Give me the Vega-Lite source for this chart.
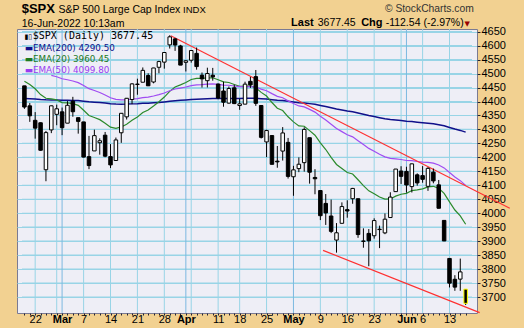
{
  "$schema": "https://vega.github.io/schema/vega-lite/v6.json",
  "width": 460,
  "height": 284,
  "autosize": {"type": "none"},
  "padding": {"left": 17, "top": 29, "right": 47, "bottom": 15},
  "background": "#F2D191",
  "config": {
    "view": {"fill": "#EEEEF6", "stroke": "#7a7a92", "strokeWidth": 1},
    "text": {"font": "Liberation Sans"},
    "axis": {
      "domain": false,
      "labelOverlap": false,
      "labelBound": false,
      "labelFlush": false,
      "labelFont": "Liberation Sans",
      "labelFontSize": 11,
      "labelColor": "#000000",
      "tickColor": "#222233",
      "title": null
    }
  },
  "data": {
    "values": [
      {"i":0,"o":4456.06,"h":4456.06,"l":4373.81,"c":4380.26,"e20":4472.3,"e50":null,"e200":4410.7},
      {"i":1,"o":4384.57,"h":4394.60,"l":4327.22,"c":4348.87,"e20":4460.6,"e50":null,"e200":4410.1},
      {"i":2,"o":4332.74,"h":4362.12,"l":4267.11,"c":4304.76,"e20":4445.8,"e50":null,"e200":4409.1},
      {"i":3,"o":4324.01,"h":4325.10,"l":4223.83,"c":4225.50,"e20":4424.8,"e50":null,"e200":4407.3},
      {"i":4,"o":4155.77,"h":4294.73,"l":4114.65,"c":4288.70,"e20":4411.8,"e50":null,"e200":4406.1},
      {"i":5,"o":4298.38,"h":4385.34,"l":4286.83,"c":4384.65,"e20":4409.2,"e50":4493.4,"e200":4405.9},
      {"i":6,"o":4354.17,"h":4388.84,"l":4315.12,"c":4373.94,"e20":4405.8,"e50":4488.7,"e200":4405.6},
      {"i":7,"o":4363.14,"h":4378.45,"l":4279.54,"c":4306.26,"e20":4396.3,"e50":4481.6,"e200":4404.6},
      {"i":8,"o":4322.56,"h":4401.48,"l":4322.56,"c":4386.54,"e20":4395.4,"e50":4477.9,"e200":4404.4},
      {"i":9,"o":4401.31,"h":4416.78,"l":4345.56,"c":4363.49,"e20":4392.4,"e50":4473.4,"e200":4404.0},
      {"i":10,"o":4342.12,"h":4342.12,"l":4284.98,"c":4328.87,"e20":4386.4,"e50":4467.7,"e200":4403.3},
      {"i":11,"o":4327.01,"h":4327.01,"l":4199.85,"c":4201.09,"e20":4368.8,"e50":4457.3,"e200":4401.3},
      {"i":12,"o":4202.66,"h":4276.94,"l":4157.87,"c":4170.70,"e20":4349.9,"e50":4446.0,"e200":4399.0},
      {"i":13,"o":4223.10,"h":4299.40,"l":4223.10,"c":4277.88,"e20":4343.0,"e50":4439.4,"e200":4397.8},
      {"i":14,"o":4252.55,"h":4268.28,"l":4209.80,"c":4259.52,"e20":4335.1,"e50":4432.4,"e200":4396.4},
      {"i":15,"o":4279.50,"h":4291.01,"l":4200.49,"c":4204.31,"e20":4322.6,"e50":4423.5,"e200":4394.5},
      {"i":16,"o":4202.75,"h":4247.57,"l":4161.72,"c":4173.11,"e20":4308.4,"e50":4413.7,"e200":4392.3},
      {"i":17,"o":4188.82,"h":4271.05,"l":4187.90,"c":4262.45,"e20":4304.0,"e50":4407.8,"e200":4391.0},
      {"i":18,"o":4288.14,"h":4358.90,"l":4251.99,"c":4357.86,"e20":4309.1,"e50":4405.8,"e200":4390.7},
      {"i":19,"o":4345.11,"h":4412.67,"l":4335.65,"c":4411.67,"e20":4318.9,"e50":4406.0,"e200":4390.9},
      {"i":20,"o":4407.34,"h":4465.40,"l":4390.57,"c":4463.12,"e20":4332.6,"e50":4408.2,"e200":4391.6},
      {"i":21,"o":4462.40,"h":4481.75,"l":4424.30,"c":4461.18,"e20":4344.8,"e50":4410.2,"e200":4392.3},
      {"i":22,"o":4469.10,"h":4522.00,"l":4469.10,"c":4511.61,"e20":4360.7,"e50":4414.2,"e200":4393.5},
      {"i":23,"o":4493.10,"h":4501.07,"l":4455.81,"c":4456.24,"e20":4369.8,"e50":4415.8,"e200":4394.1},
      {"i":24,"o":4469.98,"h":4520.58,"l":4465.17,"c":4520.16,"e20":4384.1,"e50":4419.9,"e200":4395.3},
      {"i":25,"o":4522.66,"h":4546.03,"l":4501.07,"c":4543.06,"e20":4399.2,"e50":4424.7,"e200":4396.8},
      {"i":26,"o":4541.09,"h":4575.65,"l":4517.69,"c":4575.52,"e20":4416.0,"e50":4430.6,"e200":4398.7},
      {"i":27,"o":4602.86,"h":4637.30,"l":4589.66,"c":4631.60,"e20":4436.5,"e50":4438.5,"e200":4401.0},
      {"i":28,"o":4624.20,"h":4627.77,"l":4581.32,"c":4602.45,"e20":4452.3,"e50":4444.9,"e200":4403.0},
      {"i":29,"o":4599.02,"h":4603.07,"l":4530.41,"c":4530.41,"e20":4459.7,"e50":4448.3,"e200":4404.2},
      {"i":30,"o":4540.32,"h":4548.70,"l":4507.57,"c":4545.86,"e20":4467.9,"e50":4452.1,"e200":4405.6},
      {"i":31,"o":4547.97,"h":4583.50,"l":4539.21,"c":4582.64,"e20":4478.8,"e50":4457.2,"e200":4407.3},
      {"i":32,"o":4572.45,"h":4593.45,"l":4514.17,"c":4525.12,"e20":4483.2,"e50":4459.9,"e200":4408.6},
      {"i":33,"o":4494.17,"h":4503.94,"l":4450.04,"c":4481.15,"e20":4483.0,"e50":4460.7,"e200":4409.3},
      {"i":34,"o":4474.65,"h":4521.16,"l":4450.30,"c":4500.21,"e20":4484.6,"e50":4462.3,"e200":4410.2},
      {"i":35,"o":4494.15,"h":4520.41,"l":4474.60,"c":4488.28,"e20":4485.0,"e50":4463.3,"e200":4410.9},
      {"i":36,"o":4462.64,"h":4464.35,"l":4408.38,"c":4412.53,"e20":4478.1,"e50":4461.3,"e200":4410.9},
      {"i":37,"o":4437.59,"h":4471.00,"l":4381.34,"c":4397.45,"e20":4470.4,"e50":4458.8,"e200":4410.9},
      {"i":38,"o":4394.30,"h":4453.92,"l":4392.70,"c":4446.59,"e20":4468.1,"e50":4458.3,"e200":4411.2},
      {"i":39,"o":4449.12,"h":4460.46,"l":4390.77,"c":4392.59,"e20":4460.9,"e50":4455.7,"e200":4411.0},
      {"i":40,"o":4385.63,"h":4410.31,"l":4370.30,"c":4391.69,"e20":4454.3,"e50":4453.2,"e200":4410.8},
      {"i":41,"o":4390.63,"h":4471.03,"l":4390.63,"c":4462.21,"e20":4455.1,"e50":4453.5,"e200":4411.4},
      {"i":42,"o":4472.26,"h":4488.29,"l":4448.76,"c":4459.45,"e20":4455.5,"e50":4453.8,"e200":4411.8},
      {"i":43,"o":4489.17,"h":4512.94,"l":4384.47,"c":4393.66,"e20":4449.6,"e50":4451.4,"e200":4411.6},
      {"i":44,"o":4385.83,"h":4385.83,"l":4267.62,"c":4271.78,"e20":4432.7,"e50":4444.3,"e200":4410.3},
      {"i":45,"o":4255.34,"h":4299.02,"l":4200.82,"c":4296.12,"e20":4419.7,"e50":4438.6,"e200":4409.1},
      {"i":46,"o":4278.14,"h":4278.14,"l":4175.04,"c":4175.20,"e20":4396.4,"e50":4428.2,"e200":4406.7},
      {"i":47,"o":4186.52,"h":4240.71,"l":4162.90,"c":4183.96,"e20":4376.2,"e50":4418.6,"e200":4404.5},
      {"i":48,"o":4222.58,"h":4308.45,"l":4188.63,"c":4287.50,"e20":4367.8,"e50":4413.5,"e200":4403.4},
      {"i":49,"o":4253.75,"h":4269.68,"l":4124.28,"c":4131.93,"e20":4345.3,"e50":4402.4,"e200":4400.7},
      {"i":50,"o":4130.61,"h":4169.81,"l":4062.51,"c":4155.38,"e20":4327.2,"e50":4392.8,"e200":4398.2},
      {"i":51,"o":4159.78,"h":4200.10,"l":4147.08,"c":4175.48,"e20":4312.8,"e50":4384.2,"e200":4396.0},
      {"i":52,"o":4181.18,"h":4307.66,"l":4148.91,"c":4300.17,"e20":4311.6,"e50":4381.0,"e200":4395.0},
      {"i":53,"o":4270.43,"h":4270.43,"l":4106.01,"c":4146.87,"e20":4295.9,"e50":4371.8,"e200":4392.5},
      {"i":54,"o":4128.17,"h":4157.69,"l":4067.91,"c":4123.34,"e20":4279.5,"e50":4362.1,"e200":4389.9},
      {"i":55,"o":4081.27,"h":4081.27,"l":3975.48,"c":3991.24,"e20":4252.1,"e50":4347.5,"e200":4385.9},
      {"i":56,"o":4035.18,"h":4068.82,"l":3958.17,"c":4001.05,"e20":4228.2,"e50":4334.0,"e200":4382.0},
      {"i":57,"o":3990.08,"h":4049.09,"l":3928.82,"c":3935.18,"e20":4200.3,"e50":4318.4,"e200":4377.6},
      {"i":58,"o":3903.95,"h":3964.80,"l":3858.87,"c":3930.08,"e20":4174.6,"e50":4303.1,"e200":4373.1},
      {"i":59,"o":3963.90,"h":4038.88,"l":3963.90,"c":4023.89,"e20":4160.3,"e50":4292.2,"e200":4369.7},
      {"i":60,"o":4013.02,"h":4046.46,"l":3983.99,"c":4008.01,"e20":4145.8,"e50":4281.1,"e200":4366.1},
      {"i":61,"o":4052.00,"h":4090.72,"l":4033.93,"c":4088.85,"e20":4140.4,"e50":4273.5,"e200":4363.3},
      {"i":62,"o":4051.98,"h":4051.98,"l":3911.91,"c":3923.68,"e20":4119.8,"e50":4259.8,"e200":4359.0},
      {"i":63,"o":3899.00,"h":3945.96,"l":3876.58,"c":3900.79,"e20":4099.0,"e50":4245.8,"e200":4354.4},
      {"i":64,"o":3927.76,"h":3943.42,"l":3810.32,"c":3901.36,"e20":4080.2,"e50":4232.2,"e200":4349.9},
      {"i":65,"o":3919.42,"h":3981.88,"l":3909.04,"c":3973.75,"e20":4070.1,"e50":4222.1,"e200":4346.1},
      {"i":66,"o":3942.94,"h":3955.68,"l":3875.13,"c":3941.48,"e20":4057.9,"e50":4211.1,"e200":4342.1},
      {"i":67,"o":3929.59,"h":3999.33,"l":3925.03,"c":3978.73,"e20":4050.4,"e50":4202.0,"e200":4338.4},
      {"i":68,"o":3984.60,"h":4075.14,"l":3984.60,"c":4057.84,"e20":4051.1,"e50":4196.3,"e200":4335.7},
      {"i":69,"o":4077.43,"h":4158.49,"l":4077.43,"c":4158.24,"e20":4061.3,"e50":4194.8,"e200":4333.9},
      {"i":70,"o":4151.09,"h":4168.34,"l":4104.88,"c":4132.15,"e20":4068.0,"e50":4192.4,"e200":4331.9},
      {"i":71,"o":4149.78,"h":4166.54,"l":4073.85,"c":4101.23,"e20":4071.2,"e50":4188.8,"e200":4329.6},
      {"i":72,"o":4095.41,"h":4177.51,"l":4074.37,"c":4176.82,"e20":4081.3,"e50":4188.3,"e200":4328.1},
      {"i":73,"o":4137.57,"h":4142.67,"l":4098.67,"c":4108.54,"e20":4083.9,"e50":4185.2,"e200":4325.9},
      {"i":74,"o":4134.72,"h":4168.78,"l":4109.18,"c":4121.43,"e20":4087.5,"e50":4182.7,"e200":4323.9},
      {"i":75,"o":4096.47,"h":4164.86,"l":4080.19,"c":4160.68,"e20":4094.5,"e50":4181.9,"e200":4322.2},
      {"i":76,"o":4147.12,"h":4160.14,"l":4107.20,"c":4115.77,"e20":4096.5,"e50":4179.3,"e200":4320.2},
      {"i":77,"o":4101.65,"h":4119.10,"l":4017.17,"c":4017.82,"e20":4089.0,"e50":4172.9,"e200":4317.1},
      {"i":78,"o":3974.39,"h":3974.39,"l":3900.16,"c":3900.86,"e20":4071.1,"e50":4162.3,"e200":4313.0},
      {"i":79,"o":3838.15,"h":3838.15,"l":3734.30,"c":3749.63,"e20":4040.5,"e50":4146.1,"e200":4307.3},
      {"i":80,"o":3763.52,"h":3778.18,"l":3722.30,"c":3735.48,"e20":4011.5,"e50":4130.0,"e200":4301.7},
      {"i":81,"o":3764.05,"h":3837.56,"l":3722.30,"c":3789.99,"e20":3990.4,"e50":4116.7,"e200":4296.6},
      {"i":82,"o":3728.18,"h":3728.18,"l":3671.50,"c":3677.45,"e20":3960.45,"e50":4099.8,"e200":4290.5}
    ]
  },
  "layer": [
    {
      "data": {"values": [
        {"gv":3700,"m":0},{"gv":3750,"m":0},{"gv":3800,"m":0},{"gv":3850,"m":0},{"gv":3900,"m":0},{"gv":3950,"m":0},{"gv":4000,"m":0},{"gv":4050,"m":0},{"gv":4100,"m":0},{"gv":4150,"m":0},
        {"gv":4200,"m":0},{"gv":4250,"m":0},{"gv":4300,"m":0},{"gv":4350,"m":0},{"gv":4400,"m":0},{"gv":4450,"m":0},{"gv":4500,"m":0},{"gv":4550,"m":0},{"gv":4600,"m":0},{"gv":4650,"m":0}
      ]},
      "mark": {"type": "rule", "strokeWidth": 1.2},
      "encoding": {
        "x": {"datum": -0.45, "type": "quantitative"},
        "x2": {"datum": 83.18},
        "y": {
          "field": "gv", "type": "quantitative",
          "scale": {"domain": [3642.8, 4659.7], "nice": false, "zero": false},
          "axis": {
            "orient": "right",
            "values": [3700,3750,3800,3850,3900,3950,4000,4050,4100,4150,4200,4250,4300,4350,4400,4450,4500,4550,4600,4650],
            "tickCount": 200,
            "format": "d",
            "grid": true,
            "gridColor": "#98d4e6",
            "gridWidth": 1,
            "tickSize": 3,
            "labelPadding": 1,
            "labelOverlap": false
          }
        },
        "color": {"field": "m", "type": "nominal", "scale": {"domain": [0, 1], "range": ["#98d4e6", "#7cb8e0"]}, "legend": null}
      }
    },
    {
      "data": {"values": [
        {"gi":2,"m":0},{"gi":6,"m":0},{"gi":11,"m":0},{"gi":16,"m":0},{"gi":21,"m":0},{"gi":26,"m":0},{"gi":31,"m":0},{"gi":36,"m":0},{"gi":40,"m":0},
        {"gi":45,"m":0},{"gi":55,"m":0},{"gi":60,"m":0},{"gi":65,"m":0},{"gi":70,"m":0},{"gi":74,"m":0},{"gi":79,"m":0},
        {"gi":7,"m":1},{"gi":30,"m":1},{"gi":50,"m":1},{"gi":71,"m":1}
      ]},
      "mark": {"type": "rule", "strokeWidth": 1},
      "encoding": {
        "x": {
          "field": "gi", "type": "quantitative",
          "scale": {"domain": [-0.45, 83.18], "nice": false, "zero": false},
          "axis": {
            "values": [0,1,2,3,4,5,6,7,8,9,10,11,12,13,14,15,16,17,18,19,20,21,22,23,24,25,26,27,28,29,30,31,32,33,34,35,36,37,38,39,40,41,42,43,44,45,46,47,48,49,50,51,52,53,54,55,56,57,58,59,60,61,62,63,64,65,66,67,68,69,70,71,72,73,74,75,76,77,78,79,80,81,82],
            "tickCount": 500,
            "grid": false,
            "labelExpr": "indexof([2,7,11,16,21,26,30,36,40,45,50,55,60,65,71,74,79], datum.value) >= 0 ? ['22','Mar','7','14','21','28','Apr','11','18','25','May','9','16','23','Jun','6','13'][indexof([2,7,11,16,21,26,30,36,40,45,50,55,60,65,71,74,79], datum.value)] : ''",
            "labelFontWeight": {"condition": {"test": "indexof([7,30,50,71], datum.value) >= 0", "value": "bold"}, "value": "normal"},
            "tickSize": 2,
            "labelBaseline": "alphabetic",
            "labelPadding": 7.5,
            "labelOverlap": false
          }
        },
        "color": {"field": "m", "type": "nominal"}
      }
    },
    {
      "mark": {"type": "line", "color": "#10108a", "strokeWidth": 1.5},
      "encoding": {
        "x": {"field": "i", "type": "quantitative"},
        "y": {"field": "e200", "type": "quantitative"}
      }
    },
    {
      "mark": {"type": "line", "color": "#2b8a2b", "strokeWidth": 1.2},
      "encoding": {
        "x": {"field": "i", "type": "quantitative"},
        "y": {"field": "e20", "type": "quantitative"}
      }
    },
    {
      "mark": {"type": "line", "color": "#a04cf2", "strokeWidth": 1.2},
      "encoding": {
        "x": {"field": "i", "type": "quantitative"},
        "y": {"field": "e50", "type": "quantitative"}
      }
    },
    {
      "data": {"values": [
        {"g": "upper", "i": 27.2, "v": 4635.3},
        {"g": "upper", "i": 90.2, "v": 4017.9},
        {"g": "lower", "i": 55.5, "v": 3867.0},
        {"g": "lower", "i": 84.6, "v": 3644.0}
      ]},
      "mark": {"type": "line", "color": "#ff3030", "strokeWidth": 1.2, "clip": false},
      "encoding": {
        "x": {"field": "i", "type": "quantitative"},
        "y": {"field": "v", "type": "quantitative"},
        "detail": {"field": "g"}
      }
    },
    {
      "mark": {"type": "rule", "color": "#000000", "strokeWidth": 1},
      "encoding": {
        "x": {"field": "i", "type": "quantitative"},
        "y": {"field": "l", "type": "quantitative"},
        "y2": {"field": "h"}
      }
    },
    {
      "mark": {"type": "bar", "orient": "vertical", "size": 3.5, "strokeWidth": 1},
      "encoding": {
        "x": {"field": "i", "type": "quantitative"},
        "y": {"field": "o", "type": "quantitative"},
        "y2": {"field": "c"},
        "fill": {"condition": {"test": "datum.c > datum.o", "value": "#ffffff"}, "value": "#000000"},
        "stroke": {"condition": {"test": "datum.i == 82", "value": "#ffff00"}, "value": "#000000"}
      }
    },
    {
      "data": {"values": [{}]},
      "mark": {"type": "text", "font": "DejaVu Sans", "fontSize": 7, "align": "left", "baseline": "alphabetic", "color": "#000000"},
      "encoding": {
        "x": {"datum": 0.0, "type": "quantitative"},
        "y": {"datum": 4625.5, "type": "quantitative"},
        "text": {"value": "▮▯"}
      }
    },
    {
      "data": {"values": [{}]},
      "mark": {"type": "text", "font": "DejaVu Sans Mono", "fontSize": 10, "align": "left", "baseline": "alphabetic", "color": "#000000"},
      "encoding": {
        "x": {"datum": 1.55, "type": "quantitative"},
        "y": {"datum": 4623.9, "type": "quantitative"},
        "text": {"value": "$SPX (Daily) 3677.45"}
      }
    },
    {
      "data": {"values": [{}]},
      "mark": {"type": "text", "font": "DejaVu Sans", "fontSize": 8.8, "align": "left", "baseline": "alphabetic", "color": "#10108a"},
      "encoding": {
        "x": {"datum": 0.04, "type": "quantitative"},
        "y": {"datum": 4582.7, "type": "quantitative"},
        "text": {"value": "▬EMA(200) 4290.50"}
      }
    },
    {
      "data": {"values": [{}]},
      "mark": {"type": "text", "font": "DejaVu Sans", "fontSize": 8.8, "align": "left", "baseline": "alphabetic", "color": "#1e7a1e"},
      "encoding": {
        "x": {"datum": 0.04, "type": "quantitative"},
        "y": {"datum": 4541.5, "type": "quantitative"},
        "text": {"value": "▬EMA(20) 3960.45"}
      }
    },
    {
      "data": {"values": [{}]},
      "mark": {"type": "text", "font": "DejaVu Sans", "fontSize": 8.8, "align": "left", "baseline": "alphabetic", "color": "#9a3cf0"},
      "encoding": {
        "x": {"datum": 0.04, "type": "quantitative"},
        "y": {"datum": 4503.9, "type": "quantitative"},
        "text": {"value": "▬EMA(50) 4099.80"}
      }
    },
    {
      "data": {"values": [{}]},
      "mark": {"type": "text", "fontSize": 13, "fontWeight": "bold", "align": "left", "baseline": "alphabetic", "color": "#000000"},
      "encoding": {
        "x": {"datum": -0.505, "type": "quantitative"},
        "y": {"datum": 4718, "type": "quantitative"},
        "text": {"value": "$SPX"}
      }
    },
    {
      "data": {"values": [{}]},
      "mark": {"type": "text", "fontSize": 10.5, "align": "left", "baseline": "alphabetic", "color": "#000000"},
      "encoding": {
        "x": {"datum": 6.33, "type": "quantitative"},
        "y": {"datum": 4718, "type": "quantitative"},
        "text": {"value": "S&P 500 Large Cap Index"}
      }
    },
    {
      "data": {"values": [{}]},
      "mark": {"type": "text", "fontSize": 9.5, "align": "left", "baseline": "alphabetic", "color": "#000000"},
      "encoding": {
        "x": {"datum": 29.49, "type": "quantitative"},
        "y": {"datum": 4718, "type": "quantitative"},
        "text": {"value": "INDX"}
      }
    },
    {
      "data": {"values": [{}]},
      "mark": {"type": "text", "fontSize": 10.5, "align": "left", "baseline": "alphabetic", "color": "#000000"},
      "encoding": {
        "x": {"datum": -0.505, "type": "quantitative"},
        "y": {"datum": 4668.6, "type": "quantitative"},
        "text": {"value": "16-Jun-2022 10:13am"}
      }
    },
    {
      "data": {"values": [{}]},
      "mark": {"type": "text", "fontSize": 10.3, "align": "left", "baseline": "alphabetic", "color": "#333333"},
      "encoding": {
        "x": {"datum": 67.0, "type": "quantitative"},
        "y": {"datum": 4721.6, "type": "quantitative"},
        "text": {"value": "© StockCharts.com"}
      }
    },
    {
      "data": {"values": [{}]},
      "mark": {"type": "text", "fontSize": 11, "fontWeight": "bold", "align": "left", "baseline": "alphabetic", "color": "#000000"},
      "encoding": {
        "x": {"datum": 49.55, "type": "quantitative"},
        "y": {"datum": 4670.4, "type": "quantitative"},
        "text": {"value": "Last"}
      }
    },
    {
      "data": {"values": [{}]},
      "mark": {"type": "text", "fontSize": 10.5, "align": "left", "baseline": "alphabetic", "color": "#000000"},
      "encoding": {
        "x": {"datum": 54.51, "type": "quantitative"},
        "y": {"datum": 4670.4, "type": "quantitative"},
        "text": {"value": "3677.45"}
      }
    },
    {
      "data": {"values": [{}]},
      "mark": {"type": "text", "fontSize": 11, "fontWeight": "bold", "align": "left", "baseline": "alphabetic", "color": "#000000"},
      "encoding": {
        "x": {"datum": 62.58, "type": "quantitative"},
        "y": {"datum": 4670.4, "type": "quantitative"},
        "text": {"value": "Chg"}
      }
    },
    {
      "data": {"values": [{}]},
      "mark": {"type": "text", "fontSize": 10.5, "align": "left", "baseline": "alphabetic", "color": "#000000"},
      "encoding": {
        "x": {"datum": 67.13, "type": "quantitative"},
        "y": {"datum": 4670.4, "type": "quantitative"},
        "text": {"value": "-112.54 (-2.97%)"}
      }
    },
    {
      "data": {"values": [{}]},
      "mark": {"type": "text", "font": "DejaVu Sans", "fontSize": 7, "align": "left", "baseline": "alphabetic", "color": "#990000"},
      "encoding": {
        "x": {"datum": 81.78, "type": "quantitative"},
        "y": {"datum": 4670.4, "type": "quantitative"},
        "text": {"value": "▼"}
      }
    }
  ]
}
